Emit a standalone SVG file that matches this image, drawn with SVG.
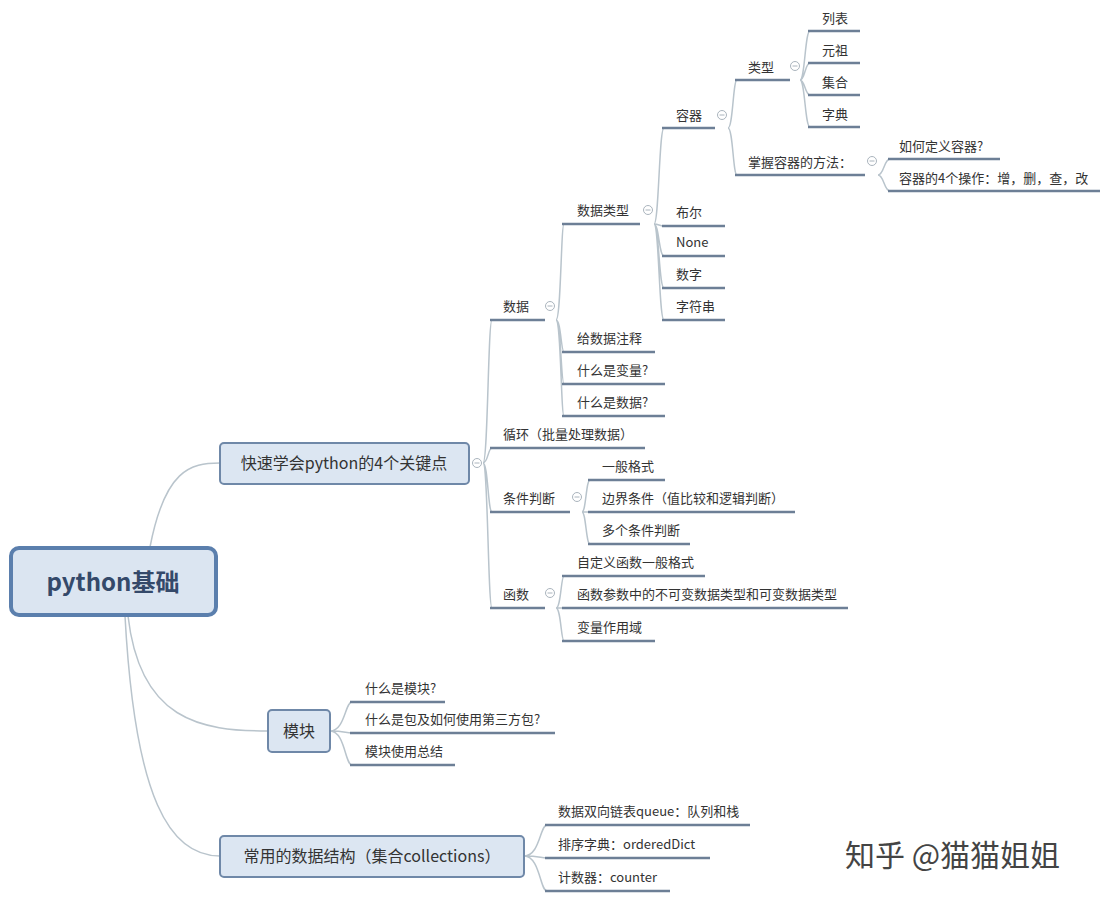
<svg xmlns="http://www.w3.org/2000/svg" width="1112" height="900" viewBox="0 0 1112 900">
<defs><g id="minus"><circle r="4.5" fill="#fff" stroke="#aab4bd" stroke-width="1"/><line x1="-2.5" y1="0" x2="2.5" y2="0" stroke="#aab4bd" stroke-width="1"/></g></defs>
<style>
text{font-family:"Noto Sans CJK SC","Liberation Sans",sans-serif;fill:#333}
.l{font-size:13px}
.u{stroke:#6d7f96;stroke-width:2.5}
.c{fill:none;stroke:#b9c4cc;stroke-width:1.5}
.box{fill:#dce6f2;stroke:#6f88a8;stroke-width:2}
</style>
<rect width="1112" height="900" fill="#fff"/>
<g id="connectors">
<path class="c" d="M150,547 C165,470 190,463 220,463"/>
<path class="c" d="M128,616 C140,720 200,731 268,731"/>
<path class="c" d="M125,616 C135,800 170,856 220,856"/>
<path class="c" d="M483,463 C488,463 488,320 492,320 M483,463 C488,463 488,448 492,448 M483,463 C488,463 488,512 492,512 M483,463 C488,463 488,608 492,608"/>
<path class="c" d="M556,320 C561,320 561,224 564,224 M556,320 C561,320 561,352 564,352 M556,320 C561,320 561,384 564,384 M556,320 C561,320 561,416 564,416"/>
<path class="c" d="M654,224 C659,224 659,128 664,128 M654,224 C659,224 659,226 664,226 M654,224 C659,224 659,256 664,256 M654,224 C659,224 659,288 664,288 M654,224 C659,224 659,320 664,320"/>
<path class="c" d="M728,128 C733,128 733,80 737,80 M728,128 C733,128 733,175 737,175"/>
<path class="c" d="M800,80 C805,80 805,31 810,31 M800,80 C805,80 805,63 810,63 M800,80 C805,80 805,95 810,95 M800,80 C805,80 805,127 810,127"/>
<path class="c" d="M878,175 C884,175 884,159 890,159 M878,175 C884,175 884,191 890,191"/>
<path class="c" d="M582,512 C586,512 586,480 590,480 M582,512 C586,512 586,512 590,512 M582,512 C586,512 586,544 590,544"/>
<path class="c" d="M556,608 C561,608 561,576 564,576 M556,608 C561,608 561,608 564,608 M556,608 C561,608 561,641 564,641"/>
<path class="c" d="M330,731 C345,731 345,702 352,702 M330,731 C345,731 345,733 352,733 M330,731 C345,731 345,765 352,765"/>
<path class="c" d="M524,856 C540,856 540,825 547,825 M524,856 C540,856 540,858 547,858 M524,856 C540,856 540,891 547,891"/>
</g>
<g id="root"><rect x="11" y="548" width="205" height="67" rx="8" fill="#dbe5f1" stroke="#5b7fad" stroke-width="4"/><text x="113" y="591" font-size="24" font-weight="bold" text-anchor="middle" style="fill:#34496a">python基础</text></g>
<g id="n-key"><rect class="box" x="220" y="443" width="249" height="41" rx="4"/><text x="344" y="469" font-size="16" text-anchor="middle">快速学会python的4个关键点</text><use href="#minus" x="477" y="463"/></g>
<g id="n-mod"><rect class="box" x="268" y="710" width="62" height="42" rx="4"/><text x="299" y="737" font-size="16" text-anchor="middle">模块</text></g>
<g id="n-ds"><rect class="box" x="220" y="836" width="304" height="41" rx="4"/><text x="372" y="862" font-size="16" text-anchor="middle">常用的数据结构（集合collections）</text></g>
<g id="leaves">
<text class="l" x="503" y="311">数据</text><line class="u" x1="490" y1="320" x2="545" y2="320"/><use href="#minus" x="550" y="306"/>
<text class="l" x="503" y="439">循环（批量处理数据）</text><line class="u" x1="490" y1="448" x2="645" y2="448"/>
<text class="l" x="503" y="503">条件判断</text><line class="u" x1="490" y1="512" x2="570" y2="512"/><use href="#minus" x="577" y="497"/>
<text class="l" x="503" y="599">函数</text><line class="u" x1="490" y1="608" x2="545" y2="608"/><use href="#minus" x="550" y="593"/>
<text class="l" x="577" y="215">数据类型</text><line class="u" x1="562" y1="224" x2="640" y2="224"/><use href="#minus" x="648" y="210"/>
<text class="l" x="577" y="343">给数据注释</text><line class="u" x1="562" y1="352" x2="655" y2="352"/>
<text class="l" x="577" y="375">什么是变量?</text><line class="u" x1="562" y1="384" x2="665" y2="384"/>
<text class="l" x="577" y="407">什么是数据?</text><line class="u" x1="562" y1="416" x2="665" y2="416"/>
<text class="l" x="676" y="120">容器</text><line class="u" x1="662" y1="128" x2="715" y2="128"/><use href="#minus" x="722" y="115"/>
<text class="l" x="676" y="217">布尔</text><line class="u" x1="662" y1="226" x2="725" y2="226"/>
<text class="l" x="676" y="247">None</text><line class="u" x1="662" y1="256" x2="725" y2="256"/>
<text class="l" x="676" y="279">数字</text><line class="u" x1="662" y1="288" x2="725" y2="288"/>
<text class="l" x="676" y="311">字符串</text><line class="u" x1="662" y1="320" x2="725" y2="320"/>
<text class="l" x="748" y="72">类型</text><line class="u" x1="735" y1="80" x2="790" y2="80"/><use href="#minus" x="795" y="66"/>
<text class="l" x="748" y="167">掌握容器的方法：</text><line class="u" x1="735" y1="175" x2="865" y2="175"/><use href="#minus" x="872" y="161"/>
<text class="l" x="822" y="23">列表</text><line class="u" x1="808" y1="31" x2="860" y2="31"/>
<text class="l" x="822" y="55">元祖</text><line class="u" x1="808" y1="63" x2="860" y2="63"/>
<text class="l" x="822" y="87">集合</text><line class="u" x1="808" y1="95" x2="860" y2="95"/>
<text class="l" x="822" y="119">字典</text><line class="u" x1="808" y1="127" x2="860" y2="127"/>
<text class="l" x="899" y="151">如何定义容器?</text><line class="u" x1="888" y1="159" x2="1000" y2="159"/>
<text class="l" x="899" y="183">容器的4个操作：增，删，查，改</text><line class="u" x1="888" y1="191" x2="1100" y2="191"/>
<text class="l" x="602" y="471">一般格式</text><line class="u" x1="588" y1="480" x2="665" y2="480"/>
<text class="l" x="602" y="503">边界条件（值比较和逻辑判断）</text><line class="u" x1="588" y1="512" x2="795" y2="512"/>
<text class="l" x="602" y="535">多个条件判断</text><line class="u" x1="588" y1="544" x2="690" y2="544"/>
<text class="l" x="577" y="567">自定义函数一般格式</text><line class="u" x1="562" y1="576" x2="705" y2="576"/>
<text class="l" x="577" y="599">函数参数中的不可变数据类型和可变数据类型</text><line class="u" x1="562" y1="608" x2="848" y2="608"/>
<text class="l" x="577" y="632">变量作用域</text><line class="u" x1="562" y1="641" x2="655" y2="641"/>
<text class="l" x="365" y="693">什么是模块?</text><line class="u" x1="350" y1="702" x2="445" y2="702"/>
<text class="l" x="365" y="724">什么是包及如何使用第三方包?</text><line class="u" x1="350" y1="733" x2="555" y2="733"/>
<text class="l" x="365" y="756">模块使用总结</text><line class="u" x1="350" y1="765" x2="455" y2="765"/>
<text class="l" x="558" y="816">数据双向链表queue：队列和栈</text><line class="u" x1="545" y1="825" x2="750" y2="825"/>
<text class="l" x="558" y="849">排序字典：orderedDict</text><line class="u" x1="545" y1="858" x2="710" y2="858"/>
<text class="l" x="558" y="882">计数器：counter</text><line class="u" x1="545" y1="891" x2="670" y2="891"/>
</g>
<text x="845" y="866" font-size="30" style="fill:#444">知乎 @猫猫姐姐</text>
</svg>
